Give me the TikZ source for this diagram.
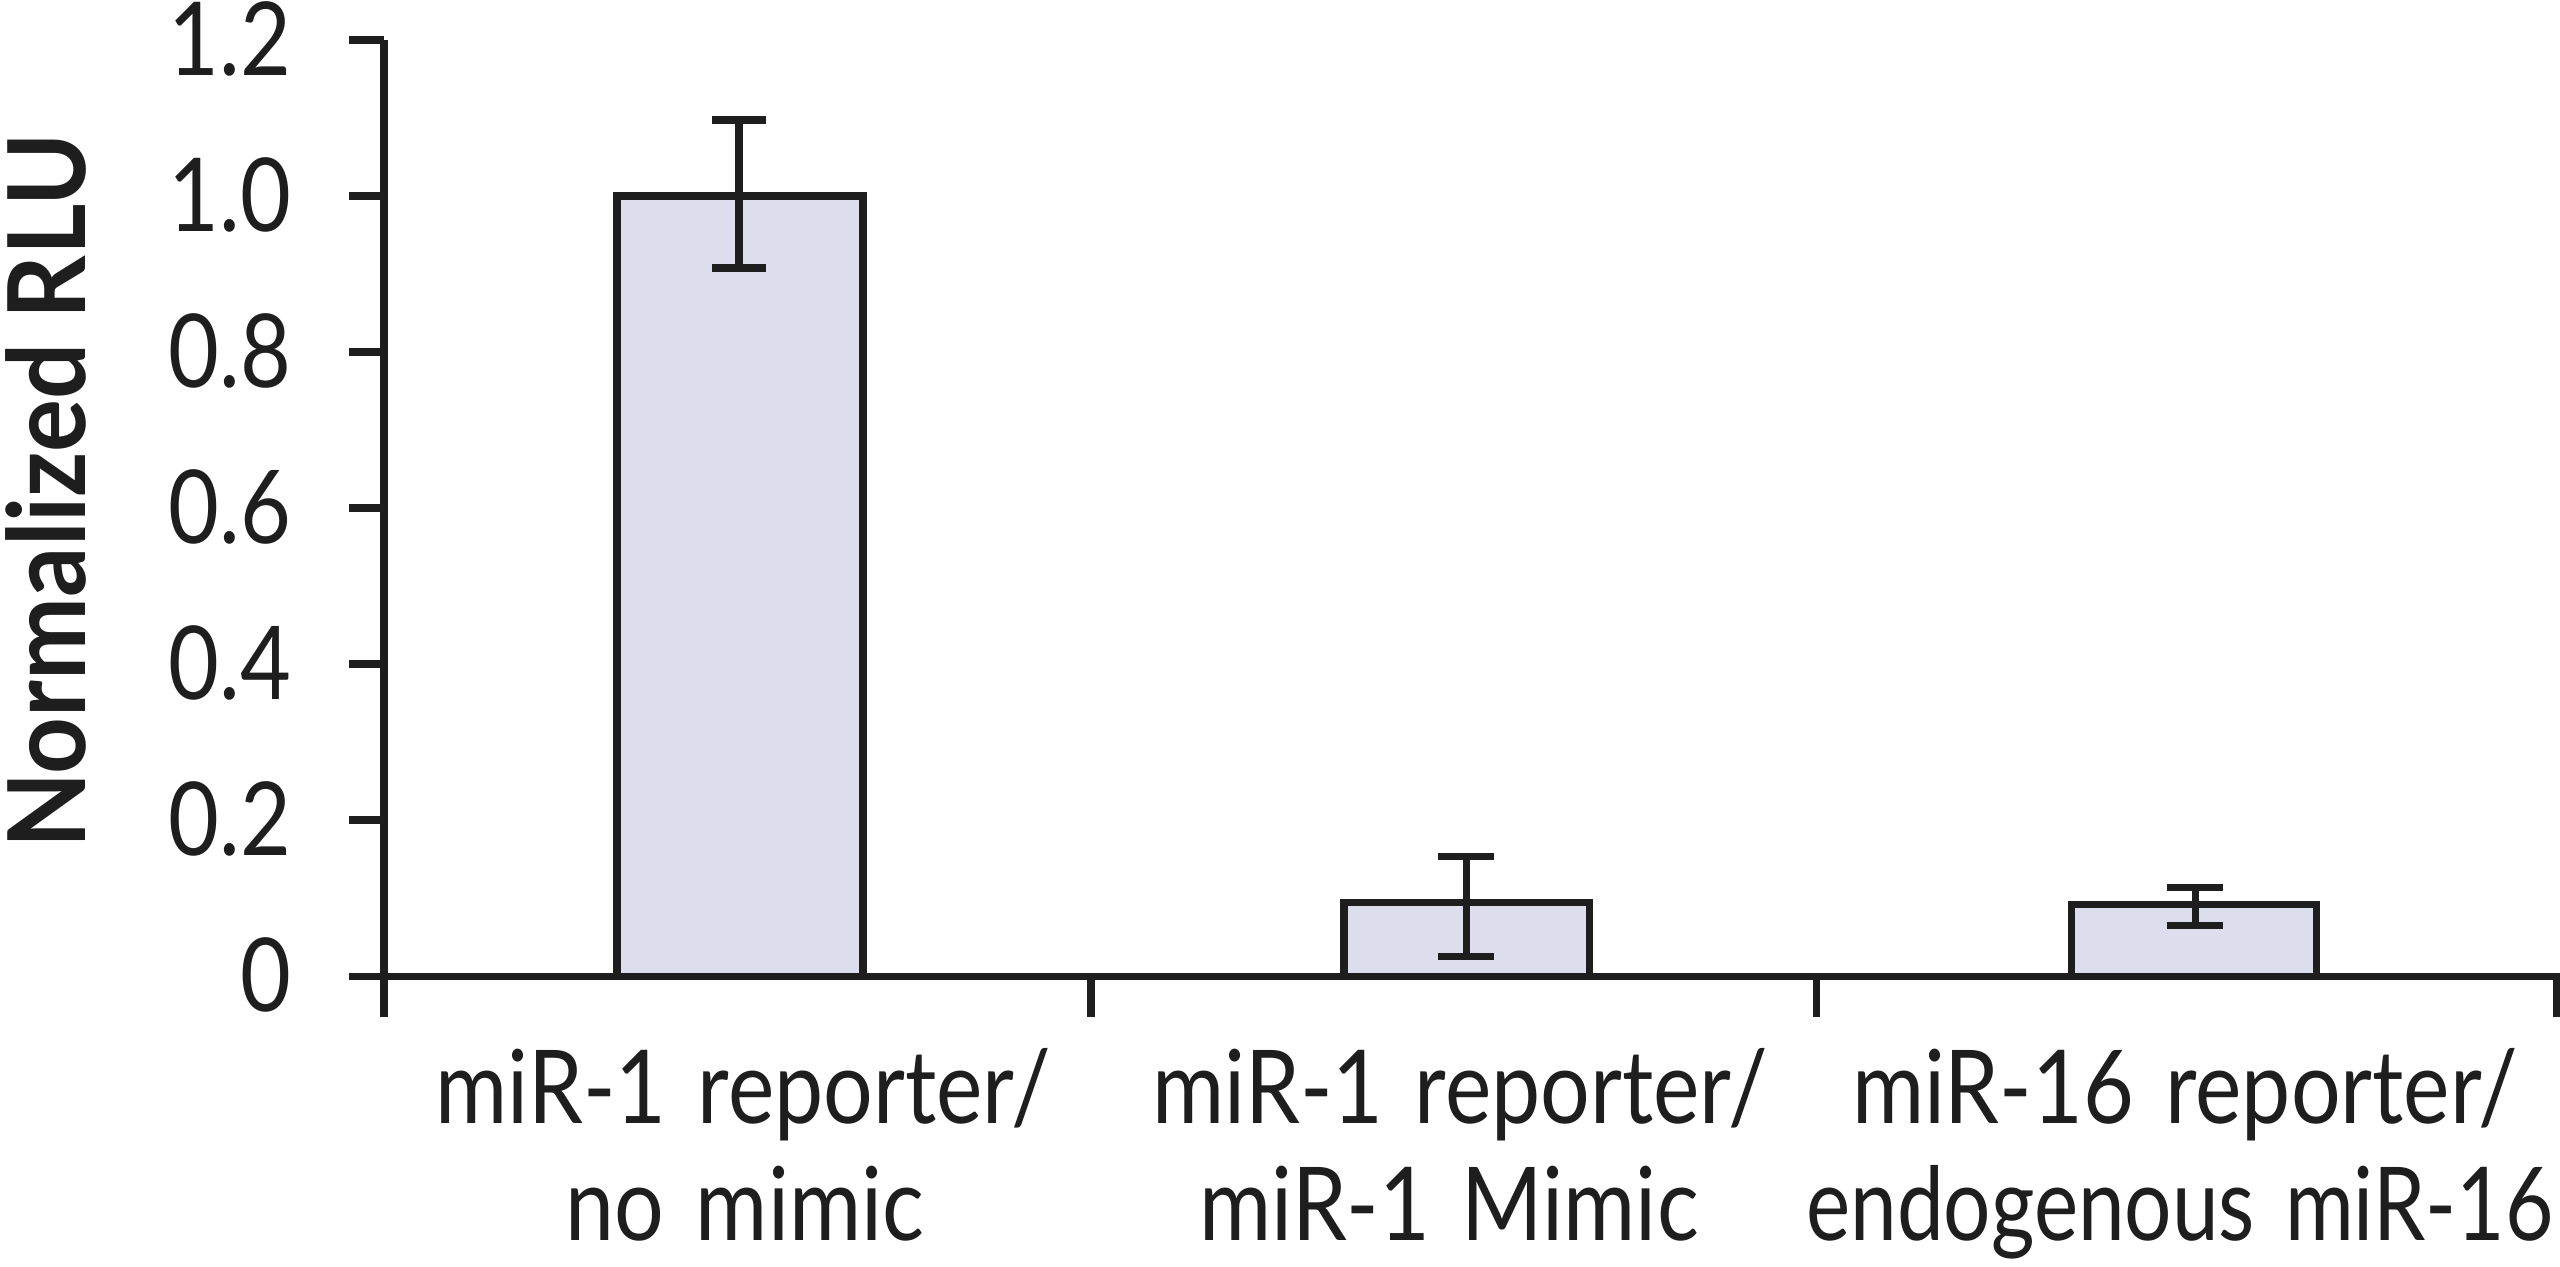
\documentclass[tikz,border=0pt]{standalone}
\usepackage{fontspec}
\setmainfont{Lato}
\newfontfamily\labfont[FakeStretch=0.86,WordSpace=1.4]{Lato}
\newfontfamily\labfontnarrow[FakeStretch=0.82,WordSpace=1.4]{Lato}
\newfontfamily\ylabfont[FakeStretch=0.92]{Lato Bold}
\definecolor{barfill}{RGB}{220,222,237}
\definecolor{ink}{RGB}{30,30,30}
\begin{document}
\begin{tikzpicture}[x=0.01cm,y=-0.01cm,
  axisline/.style={draw=ink,line width=2pt},
  barbox/.style={draw=ink,fill=barfill,line width=2pt},
  errline/.style={draw=ink,line width=2pt},
  ticklab/.style={anchor=base east,inner sep=0pt,font=\labfont\fontsize{29}{33}\selectfont,text=ink},
  catlab/.style={anchor=base,inner sep=0pt,font=\labfont\fontsize{29}{33}\selectfont,text=ink},
  catlabnarrow/.style={anchor=base,inner sep=0pt,font=\labfontnarrow\fontsize{29}{33}\selectfont,text=ink},
  ylab/.style={anchor=base,inner sep=0pt,rotate=90,font=\ylabfont\fontsize{30.6}{34}\selectfont,text=ink}]
\useasboundingbox (0,0) rectangle (2560,1266);
% bars
\draw[barbox] (617,976) rectangle (863,196);
\draw[barbox] (1344,976) rectangle (1589,902);
\draw[barbox] (2071,976) rectangle (2316,904);
% axes
\draw[axisline] (384,40) -- (384,1017);
\draw[axisline] (349,976) -- (2560,976);
\foreach \yy in {40,196,352,508,664,820}{
  \draw[axisline] (349,\yy) -- (384,\yy);
}
\foreach \xx in {1091,1816,2556}{
  \draw[axisline] (\xx,976) -- (\xx,1017);
}
% error bars
\draw[errline] (739,120) -- (739,268);
\draw[errline] (712,120) -- (766,120);
\draw[errline] (712,268) -- (766,268);
\draw[errline] (1466,856) -- (1466,956);
\draw[errline] (1438,856) -- (1494,856);
\draw[errline] (1438,956) -- (1494,956);
\draw[errline] (2195,887) -- (2195,925);
\draw[errline] (2167,887) -- (2223,887);
\draw[errline] (2167,925) -- (2223,925);
% tick labels
\node[ticklab] (t12) at (292,75) {1.2};
\node[ticklab] (t10) at (292,231) {1.0};
\node[ticklab] (t08) at (292,387) {0.8};
\node[ticklab] (t06) at (292,543) {0.6};
\node[ticklab] (t04) at (292,699) {0.4};
\node[ticklab] (t02) at (292,855) {0.2};
\node[ticklab] (t00) at (292,1011) {0};
% y label
\node[ylab] (ylabel) at (85,491) {Normalized RLU};
% category labels
\node[catlab] (c1a) at (743,1123) {miR-1 reporter/};
\node[catlab] (c1b) at (745,1240) {no mimic};
\node[catlab] (c2a) at (1460,1123) {miR-1 reporter/};
\node[catlab] (c2b) at (1449,1240) {miR-1 Mimic};
\node[catlab] (c3a) at (2185,1123) {miR-16 reporter/};
\node[catlabnarrow] (c3b) at (2180,1240) {endogenous miR-16};
\end{tikzpicture}
\end{document}
